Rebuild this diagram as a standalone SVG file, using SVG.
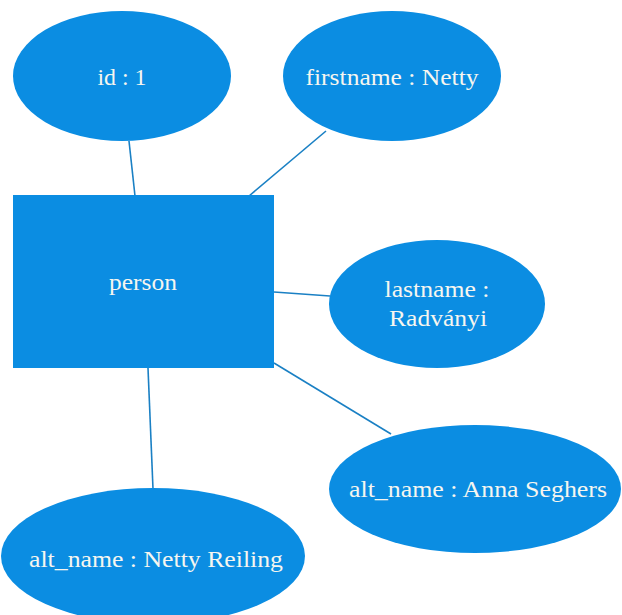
<svg xmlns="http://www.w3.org/2000/svg" width="622" height="615" viewBox="0 0 622 615">
<style>
.n{fill:#0b8de2}
.t{fill:#f6f6f0;font-family:"Liberation Serif","Times New Roman",serif;font-size:24px;text-anchor:middle}
.c line{stroke:#1a80c4;stroke-width:1.6}
</style>
<rect width="622" height="615" fill="#ffffff"/>
<g class="c" id="connectors">
<line x1="129" y1="141" x2="135" y2="196"/>
<line x1="326" y1="131" x2="249" y2="196"/>
<line x1="274" y1="292" x2="330" y2="296"/>
<line x1="148" y1="368" x2="153" y2="489"/>
<line x1="274" y1="363" x2="391" y2="434"/>
</g>
<g id="id">
<ellipse class="n" cx="122" cy="76" rx="109" ry="65"/>
<text class="t" x="122" y="85" textLength="49" lengthAdjust="spacingAndGlyphs">id : 1</text>
</g>
<g id="firstname">
<ellipse class="n" cx="392" cy="76" rx="109" ry="65"/>
<text class="t" x="392" y="85" textLength="173" lengthAdjust="spacingAndGlyphs">firstname : Netty</text>
</g>
<g id="person">
<rect class="n" x="13" y="195" width="261" height="173"/>
<text class="t" x="143" y="290" textLength="68" lengthAdjust="spacingAndGlyphs">person</text>
</g>
<g id="lastname">
<ellipse class="n" cx="437" cy="304" rx="108" ry="64"/>
<text class="t" x="437" y="297" textLength="105" lengthAdjust="spacingAndGlyphs">lastname :</text>
<text class="t" x="438" y="326" textLength="98" lengthAdjust="spacingAndGlyphs">Radványi</text>
</g>
<g id="alt_name_anna">
<ellipse class="n" cx="475" cy="489" rx="146" ry="64"/>
<text class="t" x="478" y="497" textLength="258" lengthAdjust="spacingAndGlyphs">alt_name : Anna Seghers</text>
</g>
<g id="alt_name_netty">
<ellipse class="n" cx="153" cy="556" rx="152" ry="68"/>
<text class="t" x="156" y="567" textLength="254" lengthAdjust="spacingAndGlyphs">alt_name : Netty Reiling</text>
</g>
</svg>
